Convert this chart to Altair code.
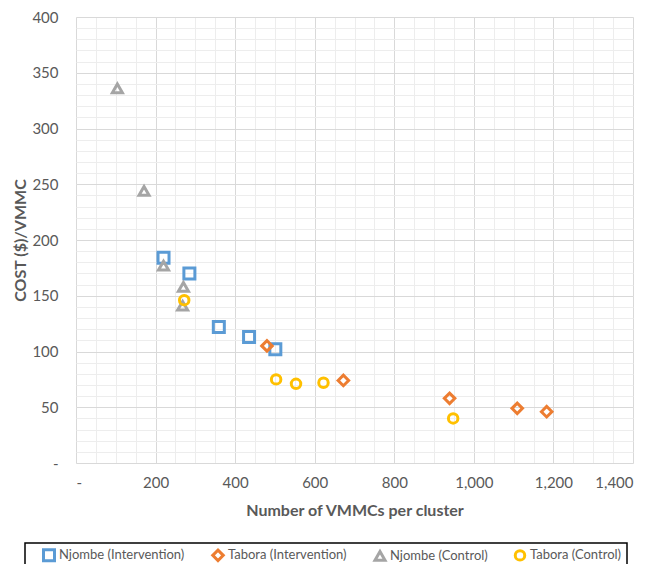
import altair as alt
import pandas as pd

series = ["Njombe (Intervention)", "Tabora (Intervention)", "Njombe (Control)", "Tabora (Control)"]
colors = ["#5B9BD5", "#ED7D31", "#A5A5A5", "#FFC000"]
shapes = ["square", "diamond", "triangle-up", "circle"]
sizes = [121, 90, 150, 120]

njombe_int_x = [220, 285, 359, 435, 501]
njombe_int_y = [184, 170, 122, 113, 102]
tabora_int_x = [480, 672, 939, 1109, 1183]
tabora_int_y = [105, 74, 58, 49, 46]
njombe_ctl_x = [104, 171, 220, 270, 268]
njombe_ctl_y = [336, 244, 177, 158, 141]
tabora_ctl_x = [272, 503, 553, 622, 948]
tabora_ctl_y = [146, 75, 71, 72, 40]

x_major = [0, 200, 400, 600, 800, 1000, 1200, 1400]
x_minor = list(range(0, 1401, 50))
y_major = [0, 50, 100, 150, 200, 250, 300, 350, 400]
y_minor = list(range(0, 401, 10))

rows = []
for i, (name, xs, ys) in enumerate(zip(
        series,
        [njombe_int_x, tabora_int_x, njombe_ctl_x, tabora_ctl_x],
        [njombe_int_y, tabora_int_y, njombe_ctl_y, tabora_ctl_y])):
    for j, (xv, yv) in enumerate(zip(xs, ys)):
        rows.append({"series": name, "x": xv, "y": yv, "ord": i * 10 + j})
df = pd.DataFrame(rows)

font = "Lato"
txt = "#595959"
xscale = alt.Scale(domain=[0, 1400], nice=False, zero=False)
yscale = alt.Scale(domain=[0, 400], nice=False, zero=False)
lab = "datum.value == 0 ? '-' : format(datum.value, ',')"
legend_spacer = "n"

minor = alt.Chart(df).mark_point(opacity=0).encode(
    x=alt.X("x:Q", scale=xscale,
            axis=alt.Axis(orient="top", values=x_minor, grid=True, gridColor="#EDEDED",
                          gridWidth=1, labels=False, ticks=False, domain=False, title="")),
    y=alt.Y("y:Q", scale=yscale,
            axis=alt.Axis(orient="right", values=y_minor, grid=True, gridColor="#EDEDED",
                          gridWidth=1, labels=False, ticks=False, domain=False, title="")),
)

leg = alt.Legend(title=legend_spacer, titleOrient="left", titleOpacity=0)

points = alt.Chart(df).mark_point(filled=False, strokeWidth=3, opacity=1).encode(
    x=alt.X("x:Q", scale=xscale,
            axis=alt.Axis(orient="bottom", values=x_major, grid=True, gridColor="#D9D9D9",
                          labelExpr=lab, ticks=False, domain=False,
                          title="Number of VMMCs per cluster",
                          labelFont=font, labelFontSize=15, labelColor=txt, labelPadding=12,
                          titleFont=font, titleFontSize=16, titleFontWeight="bold",
                          titleColor=txt, titlePadding=12)),
    y=alt.Y("y:Q", scale=yscale,
            axis=alt.Axis(orient="left", values=y_major, grid=True, gridColor="#D9D9D9",
                          labelExpr=lab, ticks=False, domain=False,
                          title="COST ($)/VMMC",
                          labelFont=font, labelFontSize=15, labelColor=txt, labelPadding=18,
                          titleFont=font, titleFontSize=16, titleFontWeight="bold",
                          titleColor=txt, titlePadding=3)),
    color=alt.Color("series:N", scale=alt.Scale(domain=series, range=colors), legend=leg),
    shape=alt.Shape("series:N", scale=alt.Scale(domain=series, range=shapes), legend=leg),
    size=alt.Size("series:N", scale=alt.Scale(domain=series, range=sizes), legend=None),
    order=alt.Order("ord:Q"),
)

chart = alt.layer(minor, points).resolve_axis(x="independent", y="independent").properties(
    width=557, height=446,
    autosize=alt.AutoSizeParams(type="none"),
    padding={"left": 68, "top": 9, "right": 12, "bottom": 101},
    background="white",
).configure_view(strokeWidth=0).configure_legend(
    orient="none", legendX=-51, legendY=526, direction="horizontal", columns=4,
    strokeColor="black", strokeWidth=1.5, padding=5, columnPadding=21,
    labelFont=font, labelFontSize=13, labelColor=txt, symbolSize=40,
    symbolStrokeWidth=3, labelLimit=300, labelOffset=3,
    titleFont=font, titleFontSize=13, titlePadding=4,
)

chart.save("out.html", embed_options={"renderer": "svg", "actions": False})
